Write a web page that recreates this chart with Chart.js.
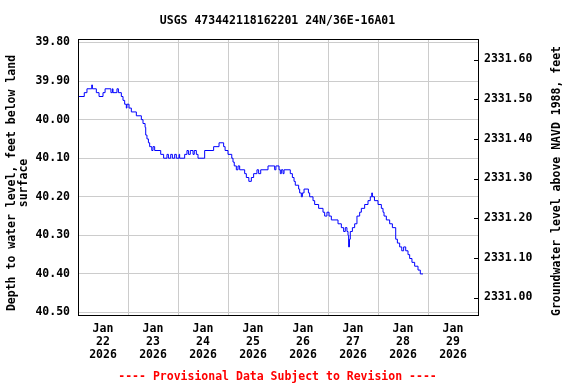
<!DOCTYPE html>
<html><head><meta charset="utf-8">
<script src="https://cdn.jsdelivr.net/npm/chart.js@4.4.1/dist/chart.umd.min.js"></script>
<style>html,body{margin:0;padding:0;background:#fff}#wrap{width:576px;height:384px;position:relative}</style>
</head><body><div id="wrap"><canvas id="c" width="576" height="384"></canvas></div>
<script>
const titleText = 'USGS 473442118162201 24N/36E-16A01';
const footerText = '---- Provisional Data Subject to Revision ----';
const leftTitle = ['Depth to water level, feet below land', 'surface'];
const rightTitle = 'Groundwater level above NAVD 1988, feet';
const monthLabel = 'Jan';
const yearLabel = '2026';
const dayLabels = ['22', '23', '24', '25', '26', '27', '28', '29'];
const dayCenterHours = [12, 36, 60, 84, 108, 132, 156, 180];
const depthTicks = [39.8, 39.9, 40.0, 40.1, 40.2, 40.3, 40.4, 40.5];
const elevTicks = [2331.0, 2331.1, 2331.2, 2331.3, 2331.4, 2331.5, 2331.6];

// hours since 2026-01-22 00:00
const hoursSinceStart = [0,3.0,4.3,6.6,6.9,8.8,10.1,12.0,13.0,15.8,16.5,16.8,18.7,19.4,20.8,21.6,22.4,23.2,23.5,24.5,25.6,28.0,30.4,31.2,32.2,32.5,33.1,33.8,34.4,35.4,36.0,36.8,39.7,41.1,42.7,43.4,44.5,45.3,46.4,47.2,48.5,48.8,51.2,52.3,53.0,53.9,55.2,55.8,56.8,57.6,60.8,65.1,67.7,69.9,70.6,72.0,73.8,74.4,75.0,76.0,76.8,77.6,80.0,80.8,82.0,83.2,84.3,85.9,86.7,87.7,91.2,94.4,95.0,96.5,97.1,97.6,98.4,98.9,101.9,102.9,103.7,104.3,105.9,106.4,107.2,107.7,108.5,110.6,111.2,112.8,113.6,115.5,117.6,118.4,119.5,120.5,121.6,124.8,126.4,127.5,128.3,129.1,129.6,129.9,130.3,130.7,131.7,132.8,133.9,135.2,136.0,137.6,139.2,140.3,141.0,141.3,142.3,144.0,145.6,146.4,146.9,148.0,149.6,150.9,152.5,153.3,154.4,155.4,156.3,157.3,158.4,159.2,160.3,161.6,163.2,164.3,165.6];
const depthFt = [39.94,39.93,39.92,39.91,39.92,39.93,39.94,39.93,39.92,39.93,39.92,39.93,39.92,39.93,39.94,39.95,39.96,39.97,39.96,39.97,39.98,39.99,40.00,40.01,40.02,40.04,40.05,40.06,40.07,40.08,40.07,40.08,40.09,40.10,40.09,40.10,40.09,40.10,40.09,40.10,40.09,40.10,40.09,40.08,40.09,40.08,40.09,40.08,40.09,40.10,40.08,40.07,40.06,40.07,40.08,40.09,40.10,40.11,40.12,40.13,40.12,40.13,40.14,40.15,40.16,40.15,40.14,40.13,40.14,40.13,40.12,40.13,40.12,40.13,40.14,40.13,40.14,40.13,40.14,40.15,40.16,40.17,40.18,40.19,40.20,40.19,40.18,40.19,40.20,40.21,40.22,40.23,40.24,40.25,40.24,40.25,40.26,40.27,40.28,40.29,40.28,40.29,40.30,40.33,40.31,40.29,40.28,40.27,40.25,40.24,40.23,40.22,40.21,40.20,40.19,40.20,40.21,40.22,40.23,40.24,40.25,40.26,40.27,40.28,40.31,40.32,40.33,40.34,40.33,40.34,40.35,40.36,40.37,40.38,40.39,40.40,40.40];

const FONT_FAMILY = '"DejaVu Sans Mono", "Liberation Mono", monospace';
const FONT_SIZE = 11.5;
const fontCss = 'bold ' + FONT_SIZE + 'px ' + FONT_FAMILY;

const points = hoursSinceStart.map((h, i) => ({x: h, y: depthFt[i]}));

const decorPlugin = {
  id: 'decor',
  afterDraw(chart) {
    const ctx = chart.ctx;
    const a = chart.chartArea;
    ctx.save();
    // plot frame
    ctx.strokeStyle = '#000';
    ctx.lineWidth = 1;
    ctx.strokeRect(a.left + 0.5, a.top + 0.5, a.right - a.left, a.bottom - a.top);
    // inner tick marks on right axis
    const r = chart.scales.yRight;
    ctx.beginPath();
    r.ticks.forEach(t => {
      const py = Math.round(r.getPixelForValue(t.value)) + 0.5;
      ctx.moveTo(a.right - 4, py);
      ctx.lineTo(a.right, py);
    });
    ctx.stroke();
    // texts
    ctx.font = fontCss;
    ctx.fillStyle = '#000';
    ctx.textAlign = 'center';
    ctx.textBaseline = 'alphabetic';
    ctx.fillText(titleText, 277.5, 24);
    ctx.fillStyle = '#ff0000';
    ctx.fillText(footerText, 277.5, 379.5);
    ctx.fillStyle = '#000';
    ctx.textBaseline = 'middle';
    // left title
    ctx.save();
    ctx.translate(12.5, 183);
    ctx.rotate(-Math.PI / 2);
    ctx.fillText(leftTitle[0], 0, 0);
    ctx.restore();
    ctx.save();
    ctx.translate(24, 183);
    ctx.rotate(-Math.PI / 2);
    ctx.fillText(leftTitle[1], 0, 0);
    ctx.restore();
    // right title
    ctx.save();
    ctx.translate(557, 181);
    ctx.rotate(-Math.PI / 2);
    ctx.fillText(rightTitle, 0, 0);
    ctx.restore();
    ctx.restore();
  }
};

new Chart(document.getElementById('c'), {
  type: 'line',
  data: {
    datasets: [{
      data: points,
      borderColor: '#0000ff',
      borderWidth: 1,
      pointRadius: 0,
      stepped: true,
      fill: false,
      yAxisID: 'y'
    }]
  },
  options: {
    responsive: false,
    animation: false,
    devicePixelRatio: 1,
    layout: {padding: {top: 39, left: 0, right: 0, bottom: 0}},
    plugins: {legend: {display: false}, tooltip: {enabled: false}, title: {display: false}},
    scales: {
      x: {
        type: 'linear',
        min: 0, max: 192,
        afterBuildTicks(s) { s.ticks = dayCenterHours.map(v => ({value: v})); },
        afterFit(s) { s.height = 69; },
        grid: {color: '#cccccc', lineWidth: 1, offset: true, drawTicks: false},
        border: {display: false},
        ticks: {
          autoSkip: false, maxRotation: 0, padding: 7, color: '#000',
          font: {family: FONT_FAMILY, size: FONT_SIZE, weight: 'bold', lineHeight: 13.3 / FONT_SIZE},
          callback(v, i) { return [monthLabel, dayLabels[i], yearLabel]; }
        }
      },
      y: {
        type: 'linear', position: 'left', reverse: true,
        min: 39.7909, max: 40.5065,
        afterBuildTicks(s) { s.ticks = depthTicks.map(v => ({value: v})); },
        afterFit(s) { s.width = 78; },
        grid: {color: '#cccccc', lineWidth: 1, drawTicks: false},
        border: {display: false},
        ticks: {
          padding: 8, color: '#000',
          font: {family: FONT_FAMILY, size: FONT_SIZE, weight: 'bold'},
          callback(v) { return Number(v).toFixed(2); }
        }
      },
      yRight: {
        type: 'linear', position: 'right',
        min: 2330.9559, max: 2331.6517,
        afterBuildTicks(s) { s.ticks = elevTicks.map(v => ({value: v})); },
        afterFit(s) { s.width = 98; },
        grid: {display: false, drawTicks: false},
        border: {display: false},
        ticks: {
          padding: 6, color: '#000',
          font: {family: FONT_FAMILY, size: FONT_SIZE, weight: 'bold'},
          callback(v) { return Number(v).toFixed(2); }
        }
      }
    }
  },
  plugins: [decorPlugin]
});
</script></body></html>
